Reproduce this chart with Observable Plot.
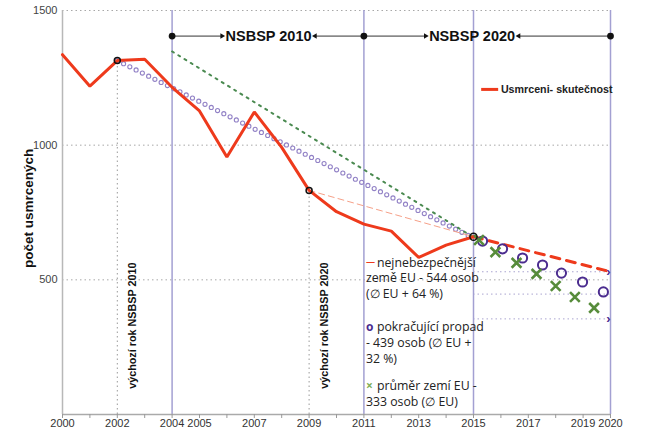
<!DOCTYPE html>
<html><head><meta charset="utf-8">
<script src="https://cdn.jsdelivr.net/npm/d3@7"></script>
<script src="https://cdn.jsdelivr.net/npm/@observablehq/plot@0.6"></script>
<style>
html,body{margin:0;padding:0;background:#fff}
#chart svg{display:block}
</style>
</head><body><div id="chart"></div>
<script>
// ---- data ----
const actualYears  = [2000,2001,2002,2003,2004,2005,2006,2007,2008,2009,2010,2011,2012,2013,2014,2015];
const actualDeaths = [1336,1219,1314,1319,1215,1127,956,1123,992,832,753,707,681,583,629,660];

const contTrendYears  = [2002, 2015];
const contTrendValues = [1314, 655];
const euTrendYears    = [2004, 2015];
const euTrendValues   = [1348, 658];
const baseTrendYears  = [2009, 2015];
const baseTrendValues = [832, 660];

const worstYears  = [2015, 2020];
const worstValues = [660, 530];
const contYears   = [2015.33,2016.06,2016.79,2017.52,2018.21,2018.98,2019.74];
const contValues  = [644,615,581,555,525,492,455];
const avgYears    = [2015.2,2015.8,2016.57,2017.3,2018.0,2018.7,2019.4];
const avgValues   = [648,603,563,522,477,436,396];
const targetLevels = [530, 447, 355];

const markerYears  = [2002, 2009, 2015];
const markerValues = [1314, 832, 660];
const strategyYears = [2004, 2011, 2015, 2020];

const periodLabels = ["NSBSP 2010", "NSBSP 2020"];
const periodStart  = [2004, 2011];
const periodEnd    = [2011, 2020];
const baseYearLabels = ["výchozí rok NSBSP 2010", "výchozí rok NSBSP 2020"];
const baseYears      = [2002, 2009];

const xTickLabels = [2000,2002,2004,2005,2007,2009,2011,2013,2015,2017,2019,2020];
const yTicks = [500, 1000, 1500];
const yLabel = "počet usmrcených";
const seriesLabel = "Usmrceni- skutečnost";

const legendMarkers = ["—", "o", "×"];
const legendFirst = ["nejnebezpečnější", "pokračující propad", "průměr zemí EU -"];
const legendRest  = ["země EU - 544 osob\n(∅ EU + 64 %)", "- 439 osob (∅ EU +\n32 %)", "333 osob (∅ EU)"];

// ---- styles / layout ----
const RED = "#ee3a1c", PURPLE_L = "#9282c6", PURPLE_D = "#4b2c8f", GREEN = "#4a8a50", GREEN_X = "#578c3b", VLINE = "#a3a0d2";
const legendColors = [RED, PURPLE_D, "#7fae5a"];
const legendSizes = [9, 12, 12];
const legendY = [564, 323, 104];
const periodLabelX = [2007.52, 2014.95];
const periodHalf = 1.7;
const annY = 1405;

const pts = (xs, ys) => xs.map((x, i) => ({x, y: ys[i]}));
const actual = pts(actualYears, actualDeaths);
const LEG_FONT = "'Open Sans', sans-serif";

const chart = Plot.plot({
  width: 646, height: 435,
  marginLeft: 62, marginRight: 36, marginTop: 10, marginBottom: 21,
  x: {domain: [2000, 2020], label: null},
  y: {domain: [0, 1500], label: null},
  style: {fontFamily: "'Liberation Sans', Arial, sans-serif", background: "#fff"},
  marks: [
    Plot.ruleY(yTicks, {x1: 2000, x2: 2020, stroke: "#a8a8a8", strokeDasharray: "1.5,3"}),
    Plot.ruleY(targetLevels, {x1: 2015, x2: 2020, stroke: "#aaa4d0", strokeDasharray: "1.5,3"}),
    Plot.ruleX(baseYears, {y1: 0, y2: (d, i) => markerValues[i], stroke: "#999", strokeDasharray: "1.5,3"}),
    Plot.ruleX(strategyYears, {y1: 0, y2: 1500, stroke: VLINE, strokeWidth: 1.5}),
    Plot.ruleX([2000], {y1: 0, y2: 1500, stroke: "#b8b8b8", strokeWidth: 1.5}),
    Plot.ruleY([0], {x1: 2000, x2: 2020, stroke: "#aaa", strokeWidth: 1.5}),
    // continuing-decline trend as rings
    Plot.line(pts(contTrendYears, contTrendValues), {x: "x", y: "y", stroke: PURPLE_L, strokeWidth: 5.2, strokeDasharray: "0,7", strokeLinecap: "round"}),
    Plot.line(pts(contTrendYears, contTrendValues), {x: "x", y: "y", stroke: "#fff", strokeWidth: 3, strokeDasharray: "0,7", strokeLinecap: "round"}),
    // EU average trend dotted
    Plot.line(pts(euTrendYears, euTrendValues), {x: "x", y: "y", stroke: GREEN, strokeWidth: 2, strokeDasharray: "2,5.3"}),
    // baseline dashed thin
    Plot.line(pts(baseTrendYears, baseTrendValues), {x: "x", y: "y", stroke: "#f6a088", strokeWidth: 1, strokeDasharray: "6,4"}),
    // actual
    Plot.line(actual, {x: "x", y: "y", stroke: RED, strokeWidth: 3, strokeLinejoin: "miter"}),
    // projections
    Plot.line(pts(worstYears, worstValues), {x: "x", y: "y", stroke: RED, strokeWidth: 3, strokeDasharray: "9,7"}),
    Plot.dot(pts(contYears, contValues), {x: "x", y: "y", r: 4.6, stroke: PURPLE_D, strokeWidth: 2, fill: "none"}),
    Plot.dot(pts(avgYears, avgValues), {x: "x", y: "y", symbol: "times", r: 4.5, stroke: GREEN_X, strokeWidth: 2.6}),
    Plot.text([0, 2], {x: 2020, y: i => targetLevels[i], text: () => "›", fill: PURPLE_D, fontSize: 13, fontWeight: "bold", dx: -2}),
    // key-year markers
    Plot.dot(pts(markerYears, markerValues), {x: "x", y: "y", r: (d, i) => i === 2 ? 6.8 : 4.8, stroke: "#111", strokeWidth: 1.5, fill: "none"}),
    // period annotations
    Plot.link(periodLabels.map((l, i) => i), {x1: i => periodStart[i], x2: i => periodLabelX[i] - periodHalf, y1: annY, y2: annY, stroke: "#333", strokeWidth: 1}),
    Plot.link(periodLabels.map((l, i) => i), {x1: i => periodEnd[i], x2: i => periodLabelX[i] + periodHalf, y1: annY, y2: annY, stroke: "#333", strokeWidth: 1}),
    Plot.dot(periodLabels.map((l, i) => i), {x: i => periodLabelX[i] - periodHalf, y: annY, symbol: "triangle2", rotate: 90, r: 2.6, fill: "#111"}),
    Plot.dot(periodLabels.map((l, i) => i), {x: i => periodLabelX[i] + periodHalf, y: annY, symbol: "triangle2", rotate: -90, r: 2.6, fill: "#111"}),
    Plot.dot([2004, 2011, 2020], {x: d => d, y: annY, r: 3.4, fill: "#111"}),
    Plot.text(periodLabels, {x: (d, i) => periodLabelX[i], y: annY, text: d => d, fontSize: 14.5, fontWeight: "bold", fill: "#111"}),
    // rotated base-year labels
    Plot.text(baseYearLabels, {x: (d, i) => baseYears[i], y: 330, text: d => d, rotate: -90, dx: 15, fontSize: 10.8, fontWeight: "bold", fill: "#111"}),
    // series legend
    Plot.link([0], {x1: 2015.28, x2: 2015.9, y1: 1207, y2: 1207, stroke: RED, strokeWidth: 3}),
    Plot.text([seriesLabel], {x: 2016.0, y: 1207, text: d => d, textAnchor: "start", fontSize: 10.7, fontWeight: "bold", fill: "#222"}),
    // projection legend
    Plot.text(legendMarkers, {x: 2011, y: (d, i) => legendY[i], text: d => d, textAnchor: "start", dx: 2, fill: (d, i) => legendColors[i], fontSize: (d, i) => legendSizes[i], fontWeight: "bold", fontFamily: LEG_FONT}),
    Plot.text(legendFirst, {x: 2011, y: (d, i) => legendY[i], text: d => d, textAnchor: "start", dx: 13, fill: "#222", fontSize: 12.3, fontFamily: LEG_FONT}),
    Plot.text(legendRest, {x: 2011, y: (d, i) => legendY[i], text: d => d, textAnchor: "start", lineAnchor: "top", dx: 2, dy: 8, lineHeight: 1.3, fill: "#222", fontSize: 12.3, fontFamily: LEG_FONT}),
    // y label
    Plot.text([yLabel], {frameAnchor: "left", y: 765, text: d => d, textAnchor: "middle", rotate: -90, dx: -34, fontSize: 13.5, fontWeight: "bold", fill: "#111"}),
    // axes
    Plot.axisX({ticks: d3.range(2000, 2021), tickSize: 4, tickPadding: 1, stroke: "#999", fill: "#333", fontSize: 11, label: null,
      tickFormat: d => xTickLabels.includes(d) ? String(d) : ""}),
    Plot.axisY({ticks: yTicks, tickSize: 0, tickPadding: 5, fill: "#444", fontSize: 11, label: null, tickFormat: d => String(d)})
  ]
});
document.getElementById("chart").appendChild(chart);
</script>
</body></html>
